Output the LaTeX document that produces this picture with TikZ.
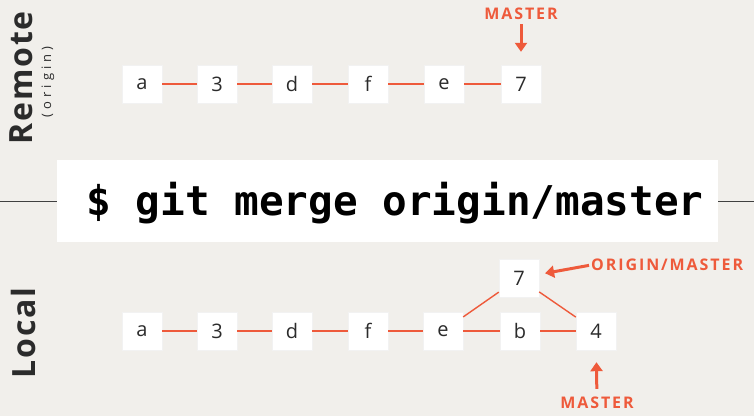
\documentclass[tikz,border=0pt]{standalone}
\usepackage{fontspec}
\setmainfont{Open Sans}
\newfontfamily\monofnt{DejaVu Sans Mono}
\newfontfamily\spaced[LetterSpace=12]{Open Sans}
\newfontfamily\sidefont[LetterSpace=6]{Open Sans}
\newfontfamily\smallside[LetterSpace=32]{Open Sans}
\usetikzlibrary{arrows.meta}
\definecolor{bg}{HTML}{F1EFEB}
\definecolor{git}{HTML}{EE5A3B}
\definecolor{txt}{HTML}{2B2B2B}
\begin{document}
\begin{tikzpicture}[x=1pt,y=-1pt,
  commit/.style={fill=white, draw=black!5, minimum width=40pt, minimum height=38pt, inner sep=0pt, font=\fontsize{20}{20}\selectfont, text=txt},
  link/.style={draw=git, line width=1.4pt},
  ptr/.style={draw=git, line width=3pt, -{Triangle[length=9pt,width=12pt]}},
  ptrlabel/.style={text=git, font=\spaced\bfseries\fontsize{16}{16}\selectfont, inner sep=0pt},
  side/.style={rotate=90, text=txt, inner sep=0pt}]
\fill[bg] (0,0) rectangle (754,416);
\useasboundingbox (0,0) rectangle (754,416);

% side labels
\node[side, font=\sidefont\bfseries\fontsize{32}{32}\selectfont] (remote) at (21,78) {Remote};
\node[side, font=\smallside\fontsize{13}{13}\selectfont] (origin) at (48,82) {(origin)};
\node[side, font=\sidefont\bfseries\fontsize{32}{32}\selectfont] (local) at (23,333) {Local};

% remote commits
\node[commit] (ra) at (142,84) {a};
\node[commit] (r3) at (217,84) {3};
\node[commit] (rd) at (292,84) {d};
\node[commit] (rf) at (368,84) {f};
\node[commit] (re) at (444,84) {e};
\node[commit] (r7) at (521,84) {7};
\draw[link] (ra) -- (r3);
\draw[link] (r3) -- (rd);
\draw[link] (rd) -- (rf);
\draw[link] (rf) -- (re);
\draw[link] (re) -- (r7);

\node[ptrlabel] (rm) at (521,14) {MASTER};
\draw[ptr, shorten <=4pt, shorten >=13pt] (rm) -- (r7);

% command
\node[fill=white, minimum width=661pt, minimum height=82pt, inner sep=0pt] (cmd) at (387.5,201) {};
\coordinate (lw) at (0,201);
\coordinate (le) at (754,201);
\draw[line width=0.8pt, black!75] (lw) -- (cmd.west);
\draw[line width=0.8pt, black!75] (cmd.east) -- (le);
\node[font=\monofnt\bfseries\fontsize{41}{41}\selectfont, text=black, inner sep=0pt] (cmdtext) at (395,203) {\$ git merge origin/master};

% local commits
\node[commit] (la) at (142,331) {a};
\node[commit] (l3) at (217,331) {3};
\node[commit] (ld) at (292,331) {d};
\node[commit] (lf) at (368,331) {f};
\node[commit] (le2) at (443,331) {e};
\node[commit] (lb) at (520,331) {b};
\node[commit] (l4) at (596,331) {4};
\node[commit] (l7) at (519,278) {7};
\draw[link] (la) -- (l3);
\draw[link] (l3) -- (ld);
\draw[link] (ld) -- (lf);
\draw[link] (lf) -- (le2);
\draw[link] (le2) -- (lb);
\draw[link] (lb) -- (l4);
\draw[link] (le2) -- (l7);
\draw[link] (l7) -- (l4);

\node[ptrlabel, anchor=west] (om) at (591,265) {ORIGIN/MASTER};
\draw[ptr, shorten <=2pt, shorten >=6pt] (om.west) -- (l7);
\node[ptrlabel] (lm) at (597,403) {MASTER};
\draw[ptr, shorten <=8pt, shorten >=12pt] (lm) -- (l4);
\end{tikzpicture}
\end{document}
